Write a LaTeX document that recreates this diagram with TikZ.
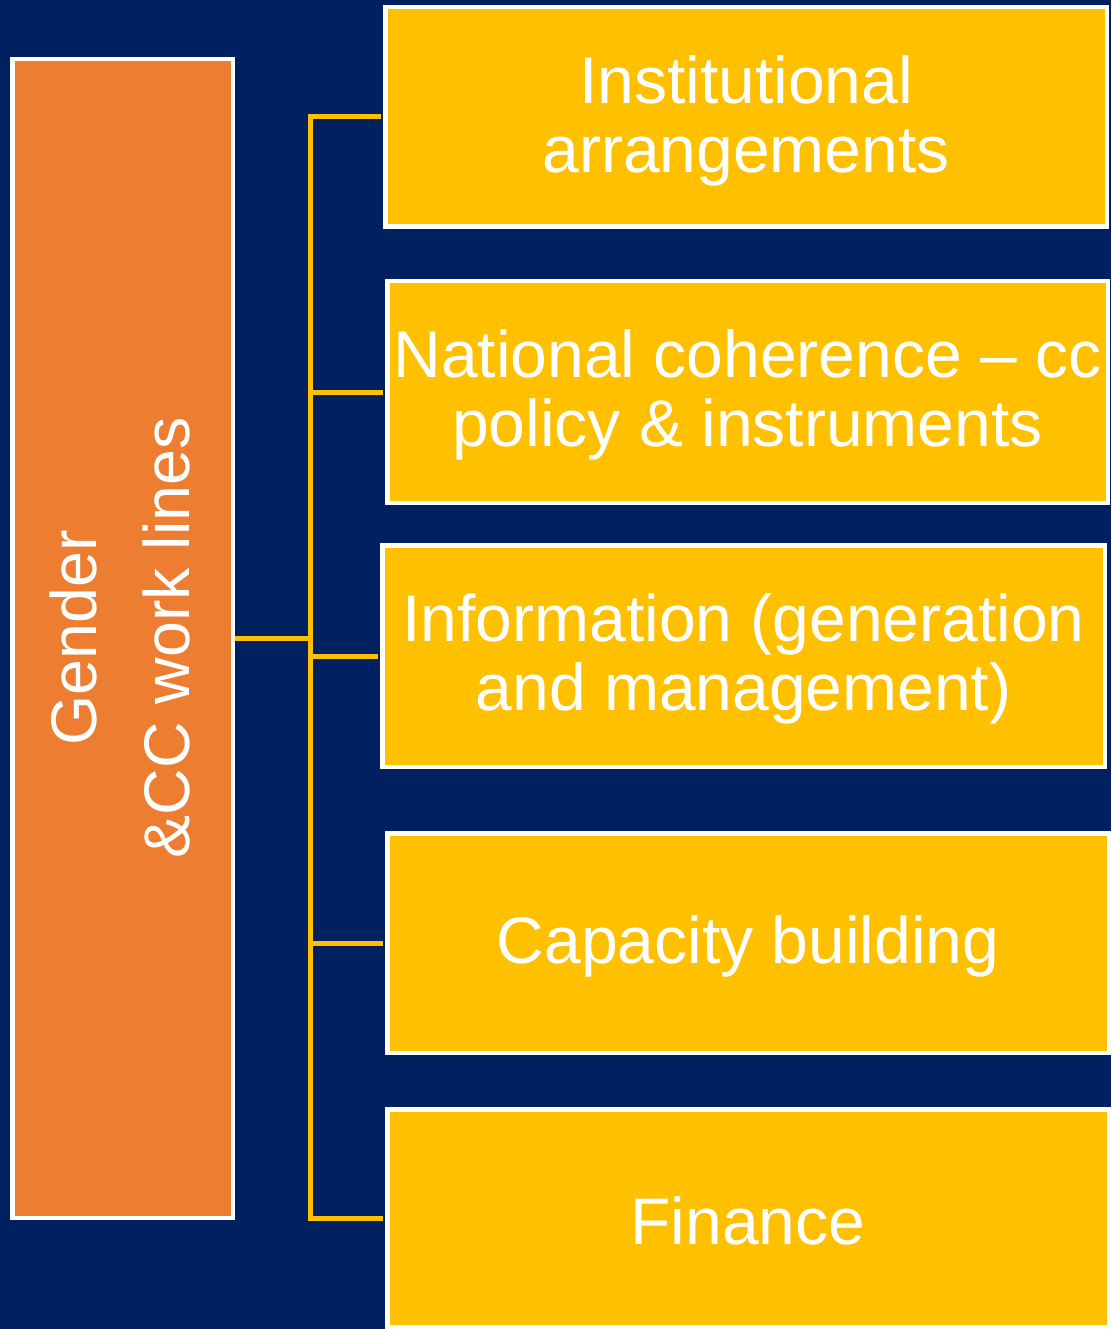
\documentclass[tikz,border=0pt]{standalone}
\usepackage{fontspec}
\setmainfont{Liberation Sans}
\definecolor{navy}{HTML}{002060}
\definecolor{gold}{HTML}{FFC000}
\definecolor{orng}{HTML}{ED7D31}
\begin{document}
\begin{tikzpicture}[x=1pt,y=-1pt,
  itembox/.style={draw=white, line width=4.5pt, fill=gold, rectangle, inner sep=0pt},
  itemtext/.style={text=white, align=center, inner sep=0pt, font=\fontsize{66}{69}\selectfont},
  mainbox/.style={draw=white, line width=4.5pt, fill=orng, rectangle, inner sep=0pt},
  maintext/.style={text=white, align=center, rotate=90, inner sep=0pt,
     font=\fontsize{64.5}{93}\selectfont},
  conn/.style={draw=gold, line width=5pt, line join=miter, shorten >=2.25pt}]
\useasboundingbox (0,0) rectangle (1111,1329);
\fill[navy] (0,0) rectangle (1111,1329);

\node[mainbox, minimum width=220.5pt, minimum height=1158.5pt] (L) at (122.5,638.5) {};
\node[maintext] (Lt) at (120,638) {Gender\\\&CC work lines};

\node[itembox, minimum width=721.5pt, minimum height=219.5pt] (b1) at (746,117) {};
\node[itembox, minimum width=720.5pt, minimum height=221.5pt] (b2) at (747.5,392) {};
\node[itembox, minimum width=722.5pt, minimum height=221.5pt] (b3) at (743.5,656) {};
\node[itembox, minimum width=721.5pt, minimum height=219.5pt] (b4) at (748,943) {};
\node[itembox, minimum width=721.5pt, minimum height=217.5pt] (b5) at (748,1218) {};

\node[itemtext] (t1) at ([yshift=-4pt]b1.center) {Institutional\\arrangements};
\node[itemtext] (t2) at ([yshift=-3pt]b2.center) {National coherence -- cc\\policy \& instruments};
\node[itemtext] (t3) at ([yshift=-3pt]b3.center) {Information (generation\\and management)};
\node[itemtext] (t4) at ([yshift=-3pt]b4.center) {Capacity building};
\node[itemtext] (t5) at ([yshift=-3pt]b5.center) {Finance};

\coordinate (J) at (310,638.5);
\foreach \b in {b1,b2,b3,b4,b5}
  \draw[conn] (L.east) -- (J) |- (\b.west);
\end{tikzpicture}
\end{document}
